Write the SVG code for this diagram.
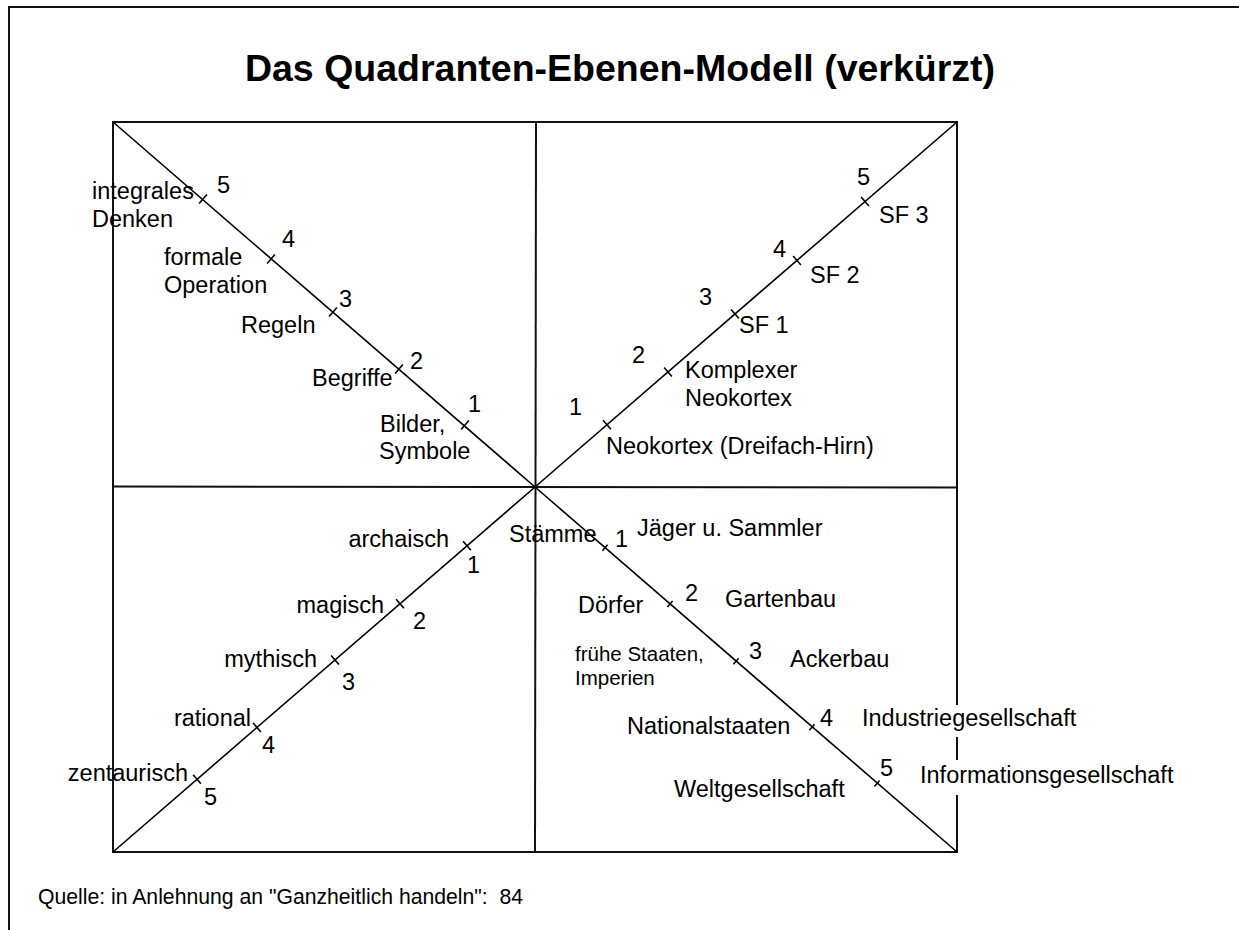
<svg xmlns="http://www.w3.org/2000/svg" width="1239" height="930" viewBox="0 0 1239 930">
<style>
.frame{stroke:#111;stroke-width:2;fill:none}
.box{stroke:#111;stroke-width:2;fill:none}
.diag{stroke:#000;stroke-width:1.6;fill:none}
.tick{stroke:#000;stroke-width:1.6}
text{font-family:"Liberation Sans",Arial,sans-serif;font-size:23.5px;fill:#000}
.title{font-size:37.5px;font-weight:bold}
.small{font-size:20.5px}
.foot{font-size:21.2px}
.end{text-anchor:end}
</style>
<rect width="1239" height="930" fill="#fff"/>
<g id="frame">
<polyline class="frame" points="9,930 9,7 1239,7"/>
</g>
<text id="title" class="title" x="620" y="81" text-anchor="middle">Das Quadranten-Ebenen-Modell (verkürzt)</text>
<g id="connectors">
<rect class="box" x="113" y="122" width="844" height="730"/>
<line class="box" x1="536" y1="122" x2="535" y2="852"/>
<line class="box" x1="113" y1="486.5" x2="957" y2="487.5"/>
<line class="diag" x1="113" y1="122" x2="535" y2="487"/>
<line class="diag" x1="535" y1="487" x2="957" y2="122"/>
<line class="diag" x1="113" y1="852" x2="535" y2="487"/>
<line class="diag" x1="535" y1="487" x2="957" y2="852"/>
<g id="ticks-tl">
<line class="tick" x1="199.1" y1="203.5" x2="206.9" y2="194.5"/>
<line class="tick" x1="267.1" y1="263.5" x2="274.9" y2="254.5"/>
<line class="tick" x1="329.1" y1="316.5" x2="336.9" y2="307.5"/>
<line class="tick" x1="395.1" y1="373.5" x2="402.9" y2="364.5"/>
<line class="tick" x1="461.1" y1="429.5" x2="468.9" y2="420.5"/>
</g>
<g id="ticks-tr">
<line class="tick" x1="861.1" y1="197" x2="868.9" y2="206"/>
<line class="tick" x1="793.1" y1="255.9" x2="800.9" y2="264.9"/>
<line class="tick" x1="731.1" y1="309.5" x2="738.9" y2="318.5"/>
<line class="tick" x1="664.1" y1="367.5" x2="671.9" y2="376.5"/>
<line class="tick" x1="603.1" y1="420.2" x2="610.9" y2="429.2"/>
</g>
<g id="ticks-bl">
<line class="tick" x1="463.1" y1="541.3" x2="470.9" y2="550.3"/>
<line class="tick" x1="396.1" y1="599.3" x2="403.9" y2="608.3"/>
<line class="tick" x1="331.1" y1="655.5" x2="338.9" y2="664.5"/>
<line class="tick" x1="253.1" y1="722.9" x2="260.9" y2="731.9"/>
<line class="tick" x1="193.1" y1="774.8" x2="200.9" y2="783.8"/>
</g>
<g id="ticks-br">
<line class="tick" x1="602.4" y1="550.7" x2="607.6" y2="544.7"/>
<line class="tick" x1="667.4" y1="607" x2="672.6" y2="601"/>
<line class="tick" x1="733.4" y1="664.3" x2="738.6" y2="658.3"/>
<line class="tick" x1="809.4" y1="730.2" x2="814.6" y2="724.2"/>
<line class="tick" x1="874.4" y1="786.5" x2="879.6" y2="780.5"/>
</g>
</g>
<g id="quadrant-top-left">
<text x="217" y="193">5</text>
<text x="92" y="199">integrales</text>
<text x="92" y="227">Denken</text>
<text x="282" y="247">4</text>
<text x="164" y="265">formale</text>
<text x="164" y="293">Operation</text>
<text x="339" y="307">3</text>
<text x="241" y="333">Regeln</text>
<text x="410" y="369">2</text>
<text x="312" y="386">Begriffe</text>
<text x="468" y="412">1</text>
<text x="380" y="432">Bilder,</text>
<text x="379" y="459">Symbole</text>
</g>
<g id="quadrant-top-right">
<text x="857" y="185">5</text>
<text x="879" y="223">SF 3</text>
<text x="773" y="257">4</text>
<text x="810" y="283">SF 2</text>
<text x="699" y="305">3</text>
<text x="739" y="333">SF 1</text>
<text x="632" y="363">2</text>
<text x="685" y="378">Komplexer</text>
<text x="685" y="406">Neokortex</text>
<text x="569" y="415">1</text>
<text x="606" y="454">Neokortex (Dreifach-Hirn)</text>
</g>
<g id="quadrant-bottom-left">
<text class="end" x="449" y="547">archaisch</text>
<text x="467" y="573">1</text>
<text class="end" x="384" y="613">magisch</text>
<text x="413" y="629">2</text>
<text class="end" x="317" y="667">mythisch</text>
<text x="342" y="690">3</text>
<text class="end" x="251" y="726">rational</text>
<text x="262" y="753">4</text>
<text class="end" x="188" y="781">zentaurisch</text>
<text x="204" y="805">5</text>
</g>
<g id="quadrant-bottom-right">
<text x="509" y="542">Stämme</text>
<text x="615" y="547">1</text>
<text x="637" y="536">Jäger u. Sammler</text>
<text x="578" y="613">Dörfer</text>
<text x="685" y="601">2</text>
<text x="725" y="607">Gartenbau</text>
<text class="small" x="575" y="661">frühe Staaten,</text>
<text class="small" x="575" y="685">Imperien</text>
<text x="749" y="659">3</text>
<text x="790" y="667">Ackerbau</text>
<text x="627" y="734">Nationalstaaten</text>
<text x="820" y="726">4</text>
<rect x="858" y="705" width="268" height="32" fill="#fff"/>
<text x="862" y="726">Industriegesellschaft</text>
<text x="674" y="797">Weltgesellschaft</text>
<text x="880" y="776">5</text>
<rect x="916" y="760" width="268" height="35" fill="#fff"/>
<text x="920" y="783">Informationsgesellschaft</text>
</g>
<text id="source" class="foot" x="38" y="904" xml:space="preserve">Quelle: in Anlehnung an "Ganzheitlich handeln":  84</text>
</svg>
